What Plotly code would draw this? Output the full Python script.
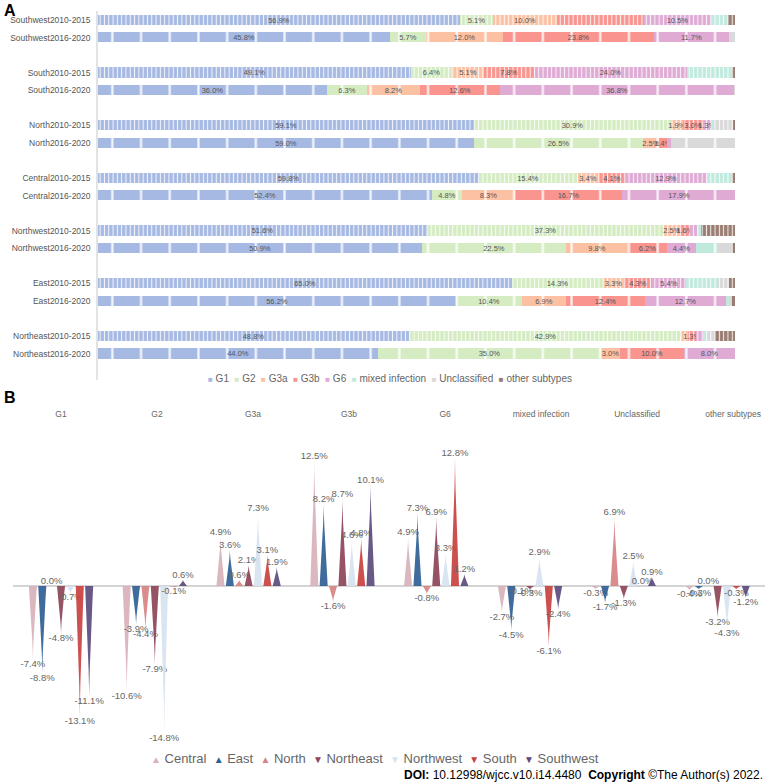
import plotly.graph_objects as go

# ---------------- Panel A data ----------------
rows = ["Southwest2010-2015", "Southwest2016-2020", "South2010-2015", "South2016-2020",
        "North2010-2015", "North2016-2020", "Central2010-2015", "Central2016-2020",
        "Northwest2010-2015", "Northwest2016-2020", "East2010-2015", "East2016-2020",
        "Northeast2010-2015", "Northeast2016-2020"]

G1 = [56.9, 45.8, 49.1, 36.0, 59.1, 59.0, 59.8, 52.4, 51.6, 50.9, 65.0, 56.2, 48.8, 44.0]
G2 = [5.1, 5.7, 6.4, 6.3, 30.9, 26.5, 15.4, 4.8, 37.3, 22.5, 14.3, 10.4, 42.9, 35.0]
G3a = [10.0, 12.0, 5.1, 8.2, 1.9, 2.5, 3.4, 8.3, 2.5, 9.8, 3.3, 6.9, 0.9, 3.0]
G3b = [13.7, 23.8, 7.8, 12.6, 3.0, 1.4, 4.1, 16.7, 1.6, 6.2, 4.3, 12.4, 1.3, 10.0]
G6 = [10.5, 11.7, 24.0, 36.8, 1.3, 0.5, 12.9, 17.9, 1.1, 4.4, 5.4, 12.7, 1.1, 8.0]
MIXED = [2.7, 0.0, 7.2, 0.0, 0.5, 0.0, 3.9, 0.0, 0.6, 3.5, 4.9, 0.5, 0.3, 0.0]
UNCLASSIFIED = [0.0, 1.0, 0.0, 0.1, 3.0, 10.1, 0.0, 0.0, 0.0, 2.5, 1.9, 0.5, 1.6, 0.0]
OTHER = [1.1, 0.0, 0.4, 0.0, 0.3, 0.0, 0.5, 0.0, 5.3, 0.2, 0.9, 0.4, 3.1, 0.0]

genotypes = ["G1", "G2", "G3a", "G3b", "G6", "mixed infection", "Unclassified", "other subtypes"]
geno_values = [G1, G2, G3a, G3b, G6, MIXED, UNCLASSIFIED, OTHER]
geno_colors = ["#a6b9e3", "#d5ecc3", "#fcc1a3", "#f9948f", "#dfaad4", "#c1eadf", "#d9d9d9", "#9a7d72"]
geno_labelled = [True, True, True, True, True, False, False, False]
hidden_labels = {("G3b", 0)}

# ---------------- Panel B data ----------------
regions = ["Central", "East", "North", "Northeast", "Northwest", "South", "Southwest"]
region_colors = ["#d8b2ba", "#2f5f95", "#d88383", "#8e4459", "#d7e3f1", "#c9413f", "#5c4b7d"]
region_symbols = ["▲", "▲", "▲", "▼", "▼", "▼", "▼"]
change_central = [-7.4, -10.6, 4.9, 12.5, 4.9, -2.7, -0.3, -0.4]
change_east = [-8.8, -3.9, 3.6, 8.2, 7.3, -4.5, -1.7, -0.3]
change_north = [0.0, -4.4, 0.6, -1.6, -0.8, -0.1, 6.9, 0.0]
change_northeast = [-4.8, -7.9, 2.1, 8.7, 6.9, -0.3, -1.3, -3.2]
change_northwest = [-0.7, -14.8, 7.3, 4.6, 3.3, 2.9, 2.5, -4.3]
change_south = [-13.1, -0.1, 3.1, 4.8, 12.8, -6.1, 0.0, -0.3]
change_southwest = [-11.1, 0.6, 1.9, 10.1, 1.2, -2.4, 0.9, -1.2]
changes = [change_central, change_east, change_north, change_northeast,
           change_northwest, change_south, change_southwest]

FONT = "Liberation Sans, Arial, sans-serif"

fig = go.Figure()

# ---------------- Panel A: stacked bars ----------------
is_early = ["2010-2015" in r for r in rows]
pat_size = [4.3 if e else 28.7 for e in is_early]
pat_sol = [0.25 if e else 0.08 for e in is_early]

for name, vals, col, lab in zip(genotypes, geno_values, geno_colors, geno_labelled):
    texts = []
    for i, v in enumerate(vals):
        if lab and v >= 1.2 and (name, i) not in hidden_labels:
            texts.append(f"{v:.1f}%")
        else:
            texts.append("")
    fig.add_trace(go.Bar(
        x=vals, y=rows, orientation="h", name=name,
        marker=dict(color=col, line=dict(width=0),
                    pattern=dict(shape=["|"] * len(rows), size=pat_size, solidity=pat_sol,
                                 fgcolor="white", fgopacity=0.85)),
        text=texts, textposition="inside", insidetextanchor="middle", textangle=0,
        textfont=dict(size=7.5, color="#555555", family=FONT),
        width=0.58, showlegend=False, xaxis="x", yaxis="y", hoverinfo="x+y+name",
    ))

cat_order = []
for i in range(0, len(rows), 2):
    cat_order += [rows[i], rows[i + 1]]
    if i < len(rows) - 2:
        cat_order.append(" " * (i // 2 + 1))

# ---------------- Panel B: spike triangles ----------------
step = 0.1
half_w = 0.043
ts = [0.0, 0.15, 0.3, 0.45, 0.6, 0.75, 0.9, 1.0]
for k, (reg, col, vals) in enumerate(zip(regions, region_colors, changes)):
    px, py = [], []
    for j, v in enumerate(vals):
        if v == 0:
            continue
        cx = j + (k - 3) * step
        left = [(cx - half_w * (1 - t) ** 1.4, v * t) for t in ts]
        right = [(cx + half_w * (1 - t) ** 1.4, v * t) for t in reversed(ts)]
        for a, b in left + right:
            px.append(a)
            py.append(b)
        px.append(None)
        py.append(None)
    fig.add_trace(go.Scatter(
        x=px, y=py, mode="lines", fill="toself", fillcolor=col, opacity=0.92,
        line=dict(width=0, color=col), showlegend=False, hoverinfo="skip",
        xaxis="x2", yaxis="y2",
    ))
    xs = [j + (k - 3) * step for j in range(len(vals))]
    fig.add_trace(go.Scatter(
        x=xs, y=vals, mode="text", text=[f"{v:.1f}%" for v in vals],
        textposition=["top center" if v >= 0 else "bottom center" for v in vals],
        textfont=dict(size=9.5, color="#666666", family=FONT),
        showlegend=False, xaxis="x2", yaxis="y2", name=reg,
    ))

# header labels sit on a slightly wider spacing than the spike groups
header_spread = 1.0235

# ---------------- Layout ----------------
fig.update_layout(
    width=771, height=784, margin=dict(l=0, r=0, t=0, b=0),
    paper_bgcolor="white", plot_bgcolor="white",
    barmode="stack", bargap=0,
    uniformtext=dict(minsize=7.5, mode="show"),
    font=dict(family=FONT, color="#555555"),
    xaxis=dict(domain=[98 / 771, 735 / 771], range=[0, 100], visible=False, anchor="y"),
    yaxis=dict(domain=[1 - 380 / 784, 1 - 11.2 / 784], type="category",
               categoryorder="array", categoryarray=cat_order,
               range=[20.5, -0.5], showline=True, linecolor="#e3e3e3", linewidth=1.5,
               ticks="", showgrid=False, tickfont=dict(size=8.5, color="#555555", family=FONT),
               ticklabelstandoff=4, anchor="x"),
    xaxis2=dict(domain=[13 / 771, 765 / 771], range=[-0.512, 7.505], side="top",
                tickvals=[j * header_spread for j in range(len(genotypes))], ticktext=genotypes,
                tickfont=dict(size=8.5, color="#666666", family=FONT),
                showgrid=False, zeroline=False, showline=False, ticks="", anchor="y2"),
    yaxis2=dict(domain=[1 - 745 / 784, 1 - 420 / 784], range=[-15.9, 16.6],
                showticklabels=False, showgrid=False, zeroline=True,
                zerolinecolor="#d4d4d4", zerolinewidth=1.5, anchor="x2"),
)

annotations = []
annotations.append(dict(text="<b>A</b>", x=0.003, y=1.0, xref="paper", yref="paper",
                        xanchor="left", yanchor="top", showarrow=False,
                        font=dict(size=16, color="black", family="Liberation Sans, Arial")))
annotations.append(dict(text="<b>B</b>", x=0.003, y=1 - 387 / 784, xref="paper", yref="paper",
                        xanchor="left", yanchor="top", showarrow=False,
                        font=dict(size=16, color="black", family="Liberation Sans, Arial")))

legend_a = "  ".join(
    f"<span style='color:{c};font-size:8px'>■</span> {g}" for g, c in zip(genotypes, geno_colors))
annotations.append(dict(text=legend_a, x=390 / 771, y=1 - 378 / 784, xref="paper", yref="paper",
                        xanchor="center", yanchor="middle", showarrow=False,
                        font=dict(size=10, color="#666666", family=FONT)))

legend_b = "  ".join(
    f"<span style='color:{c};font-size:10px'>{s}</span> {r}"
    for r, c, s in zip(regions, region_colors, region_symbols))
annotations.append(dict(text=legend_b, x=375 / 771, y=1 - 758 / 784, xref="paper", yref="paper",
                        xanchor="center", yanchor="middle", showarrow=False,
                        font=dict(size=13, color="#666666", family=FONT)))

annotations.append(dict(text="<b>DOI:</b> 10.12998/wjcc.v10.i14.4480  <b>Copyright</b> ©The Author(s) 2022.",
                        x=765 / 771, y=1 - 775 / 784, xref="paper", yref="paper",
                        xanchor="right", yanchor="middle", showarrow=False,
                        font=dict(size=12, color="black", family="Liberation Sans, Arial")))
fig.update_layout(annotations=annotations)

fig.write_html("out.html", config={"displayModeBar": False},
               post_script="document.body.style.margin='0px';")
